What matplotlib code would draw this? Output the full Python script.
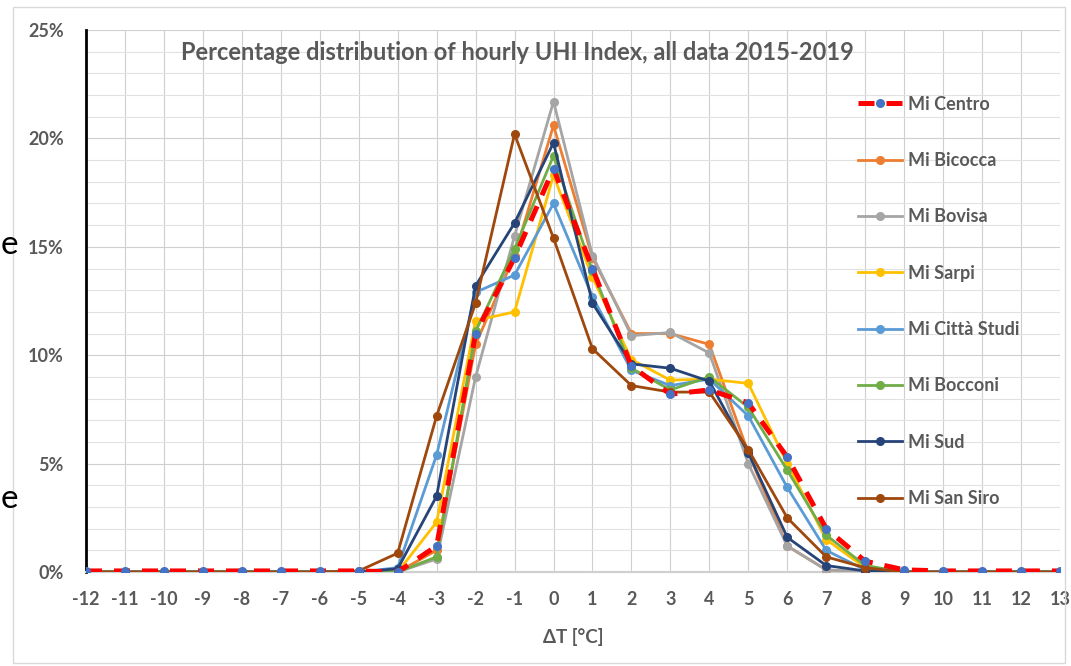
"""
plot.py
-------
Percentage distribution of hourly UHI index (2015-2019) for the Milan stations.
Saves out.png.
"""

import matplotlib

matplotlib.use("Agg")

import matplotlib.pyplot as plt
from matplotlib.patches import Rectangle
from matplotlib.ticker import MultipleLocator, PercentFormatter

# ---------------------------------------------------------------------------
# Data (values in %, one per integer delta T from -12 to 13)
# ---------------------------------------------------------------------------

delta_t = [-12, -11, -10, -9, -8, -7, -6, -5, -4, -3, -2, -1, 0,
           1, 2, 3, 4, 5, 6, 7, 8, 9, 10, 11, 12, 13]

mi_centro = [0.05, 0.05, 0.05, 0.05, 0.05, 0.05, 0.05, 0.05, 0.0, 1.2, 11.0, 14.5, 18.6,
             14.0, 9.5, 8.2, 8.4, 7.8, 5.3, 2.0, 0.5, 0.1, 0.05, 0.05, 0.05, 0.05]
mi_bicocca = [0, 0, 0, 0, 0, 0, 0, 0, 0.0, 1.0, 10.5, 14.6, 20.6,
              14.5, 11.0, 11.0, 10.5, 5.5, 1.2, 0.1, 0.0, 0, 0, 0, 0, 0]
mi_bovisa = [0, 0, 0, 0, 0, 0, 0, 0, 0.0, 0.6, 9.0, 15.5, 21.7,
             14.6, 10.9, 11.05, 10.1, 5.0, 1.2, 0.1, 0.0, 0, 0, 0, 0, 0]
mi_sarpi = [0, 0, 0, 0, 0, 0, 0, 0, 0.0, 2.3, 11.6, 12.0, 18.3,
            13.6, 9.8, 8.85, 8.9, 8.7, 5.0, 1.5, 0.2, 0, 0, 0, 0, 0]
mi_citta_studi = [0, 0, 0, 0, 0, 0, 0, 0, 0.2, 5.4, 12.9, 13.7, 17.0,
                  12.7, 9.3, 8.6, 8.9, 7.2, 3.9, 1.0, 0.1, 0, 0, 0, 0, 0]
mi_bocconi = [0, 0, 0, 0, 0, 0, 0, 0, 0.0, 0.7, 11.1, 14.9, 19.2,
              13.9, 9.4, 8.4, 9.0, 7.6, 4.7, 1.7, 0.3, 0, 0, 0, 0, 0]
mi_sud = [0, 0, 0, 0, 0, 0, 0, 0, 0.15, 3.5, 13.2, 16.1, 19.8,
          12.4, 9.6, 9.4, 8.8, 5.5, 1.6, 0.3, 0.05, 0, 0, 0, 0, 0]
mi_san_siro = [0, 0, 0, 0, 0, 0, 0, 0.05, 0.87, 7.2, 12.4, 20.2, 15.4,
               10.3, 8.6, 8.3, 8.3, 5.65, 2.5, 0.7, 0.2, 0, 0, 0, 0, 0]

# (label, values, line colour, marker colour)
SERIES = [
    ("Mi Centro", mi_centro, "#FF0000", "#4472C4"),
    ("Mi Bicocca", mi_bicocca, "#ED7D31", "#ED7D31"),
    ("Mi Bovisa", mi_bovisa, "#A5A5A5", "#A5A5A5"),
    ("Mi Sarpi", mi_sarpi, "#FFC000", "#FFC000"),
    ("Mi Città Studi", mi_citta_studi, "#5B9BD5", "#5B9BD5"),
    ("Mi Bocconi", mi_bocconi, "#70AD47", "#70AD47"),
    ("Mi Sud", mi_sud, "#264478", "#264478"),
    ("Mi San Siro", mi_san_siro, "#9E480E", "#9E480E"),
]

TEXT_COLOR = "#595959"
GRID_MAJOR = "#CFCFCF"
GRID_MINOR = "#E2E2E2"

plt.rcParams["font.family"] = ["Lato", "DejaVu Sans"]
plt.rcParams["axes.unicode_minus"] = False

# ---------------------------------------------------------------------------
# Plot
# ---------------------------------------------------------------------------

fig = plt.figure(figsize=(10.71, 6.66), dpi=100)
fig.patch.set_facecolor("white")
ax = fig.add_axes([0.0803, 0.1411, 0.9094, 0.8138])

for i, (label, values, color, mcolor) in enumerate(SERIES):
    if label == "Mi Centro":
        # red thick dashed line, drawn on top like in the original
        ax.plot(delta_t, values, color=color, linewidth=3.6, dashes=(3.2, 2.4),
                marker="o", markersize=5.5, markerfacecolor=mcolor,
                markeredgecolor=mcolor, label=label, zorder=10)
    else:
        ax.plot(delta_t, values, color=color, linewidth=2.0, marker="o",
                markersize=5.5, markerfacecolor=mcolor, markeredgecolor=mcolor,
                label=label, zorder=2 + i)

ax.set_xlim(-12, 13)
ax.set_ylim(0, 25)
ax.xaxis.set_major_locator(MultipleLocator(1))
ax.yaxis.set_major_locator(MultipleLocator(5))
ax.yaxis.set_minor_locator(MultipleLocator(1))
ax.yaxis.set_major_formatter(PercentFormatter(decimals=0))

ax.grid(which="major", axis="both", color=GRID_MAJOR, linewidth=0.8)
ax.grid(which="minor", axis="y", color=GRID_MINOR, linewidth=0.8)
ax.set_axisbelow(True)

for side in ("top", "right"):
    ax.spines[side].set_visible(False)
ax.spines["left"].set_color("black")
ax.spines["left"].set_linewidth(2.0)
ax.spines["bottom"].set_color("#D0D0D0")
ax.spines["bottom"].set_linewidth(1.6)

ax.tick_params(which="both", length=0, colors=TEXT_COLOR, labelsize=13)
ax.tick_params(axis="x", pad=14)
ax.tick_params(axis="y", pad=16)
for lbl in ax.get_xticklabels() + ax.get_yticklabels():
    lbl.set_fontweight("bold")

ax.set_xlabel("ΔT [°C]", fontsize=13.5, fontweight="bold", color=TEXT_COLOR,
              labelpad=14)

ax.text(0.4425, 0.959, "Percentage distribution of hourly UHI Index, all data 2015-2019",
        transform=ax.transAxes, ha="center", va="center", fontsize=17,
        fontweight="bold", color=TEXT_COLOR)

leg = ax.legend(loc="upper left", bbox_to_anchor=(0.7926, 0.879), frameon=False,
                fontsize=13, labelspacing=2.18, handlelength=2.45,
                handletextpad=0.3, borderpad=0, borderaxespad=0)
for txt in leg.get_texts():
    txt.set_color(TEXT_COLOR)
    txt.set_fontweight("bold")

# outer chart frame
fig.add_artist(Rectangle((0.012, 0.004), 0.982, 0.985, transform=fig.transFigure,
                         fill=False, edgecolor="#D9D9D9", linewidth=1.0))

# stray letters of the surrounding page text at the left edge
fig.text(0.001, 0.632, "e", ha="left", va="center", fontsize=24, color="black")
fig.text(0.001, 0.25, "e", ha="left", va="center", fontsize=24, color="black")

fig.savefig("out.png", dpi=100)
